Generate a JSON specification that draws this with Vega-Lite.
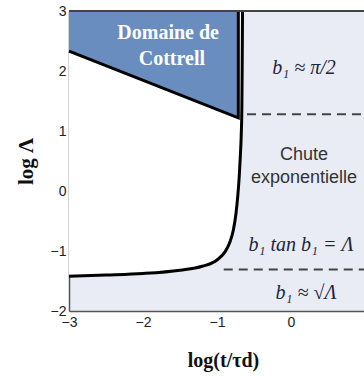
{
  "$schema": "https://vega.github.io/schema/vega-lite/v6.json",
  "autosize": {"type": "none"},
  "width": 295,
  "height": 300,
  "padding": {"left": 69, "top": 11, "right": 0, "bottom": 68},
  "background": "white",
  "view": {"fill": "#e9ecf4", "stroke": null},
  "datasets": {
    "curve": [
      {"x": -3.0, "y": -1.42}, {"x": -2.5, "y": -1.40}, {"x": -2.0, "y": -1.375},
      {"x": -1.5, "y": -1.32}, {"x": -1.2, "y": -1.255}, {"x": -1.0, "y": -1.15},
      {"x": -0.89, "y": -1.01}, {"x": -0.824, "y": -0.845}, {"x": -0.779, "y": -0.65},
      {"x": -0.743, "y": -0.37}, {"x": -0.72, "y": -0.095}, {"x": -0.699, "y": 0.25},
      {"x": -0.686, "y": 0.55}, {"x": -0.672, "y": 0.95}, {"x": -0.664, "y": 1.4},
      {"x": -0.66, "y": 2.0}, {"x": -0.655, "y": 3.0}
    ],
    "cottrell": [
      {"x": -3.0, "y": 2.33}, {"x": -0.712, "y": 1.22}
    ],
    "cottrellEdge": [
      {"x": -3.0, "y": 2.33, "o": 1}, {"x": -0.712, "y": 1.22, "o": 2}, {"x": -0.712, "y": 3.0, "o": 3}
    ],
    "dashes": [
      {"x": -0.595, "x2": 0.99, "y": 1.28},
      {"x": -0.909, "x2": 0.99, "y": -1.31}
    ],
    "frame": [
      {"x": -3.0, "x2": 0.99, "y": 3.0}
    ],
    "cottrellText": [
      {"x": -1.66, "y": 2.63, "t": "Domaine de"},
      {"x": -1.61, "y": 2.2, "t": "Cottrell"}
    ],
    "mathText": [
      {"x": 0.176, "y": 2.05, "t": "b₁ ≈  π/2"},
      {"x": 0.135, "y": -0.9, "t": "b₁ tan b₁ =  Λ"},
      {"x": 0.203, "y": -1.7, "t": "b₁ ≈ √Λ"}
    ],
    "chuteText": [
      {"x": 0.176, "y": 0.6, "t": "Chute"},
      {"x": 0.176, "y": 0.215, "t": "exponentielle"}
    ]
  },
  "encoding": {
    "x": {"field": "x", "type": "quantitative",
      "scale": {"domain": [-3, 0.9865], "nice": false, "zero": false},
      "axis": {"title": "log(t/τd)", "values": [-3, -2, -1, 0],
        "titleFont": "Liberation Serif", "titleFontSize": 20, "titleFontWeight": "bold", "titleColor": "#111",
        "titlePadding": 21, "titleX": 154,
        "labelFont": "Liberation Sans", "labelFontSize": 14, "labelColor": "#222", "labelPadding": 4,
        "ticks": false, "grid": false, "domainColor": "#555", "domainWidth": 1.5, "labelFlush": false}},
    "y": {"field": "y", "type": "quantitative",
      "scale": {"domain": [-2, 3], "nice": false, "zero": false},
      "axis": {"title": "log Λ", "values": [-2, -1, 0, 1, 2, 3],
        "titleFont": "Liberation Serif", "titleFontSize": 21, "titleFontWeight": "bold", "titleColor": "#111",
        "titlePadding": 14,
        "labelFont": "Liberation Sans", "labelFontSize": 14, "labelColor": "#222", "labelPadding": 3,
        "ticks": false, "grid": false, "domainColor": "#555", "domainWidth": 1.5, "labelFlush": false}}
  },
  "layer": [
    {"data": {"name": "curve"}, "mark": {"type": "area", "color": "white", "interpolate": "monotone"},
      "encoding": {"y2": {"datum": 3}}},
    {"data": {"name": "cottrell"}, "mark": {"type": "area", "color": "#6a8dbf"},
      "encoding": {"y2": {"datum": 3}}},
    {"data": {"name": "curve"}, "mark": {"type": "line", "color": "black", "strokeWidth": 3, "interpolate": "monotone"}},
    {"data": {"name": "cottrellEdge"}, "mark": {"type": "line", "color": "black", "strokeWidth": 3},
      "encoding": {"order": {"field": "o"}}},
    {"data": {"name": "dashes"}, "mark": {"type": "rule", "color": "#444", "strokeWidth": 2, "strokeDash": [9, 6]},
      "encoding": {"x2": {"field": "x2"}}},
    {"data": {"name": "frame"}, "mark": {"type": "rule", "color": "#444", "strokeWidth": 2},
      "encoding": {"x2": {"field": "x2"}}},
    {"data": {"name": "cottrellText"}, "mark": {"type": "text", "font": "Liberation Serif", "fontSize": 20, "fontWeight": "bold", "color": "white"},
      "encoding": {"text": {"field": "t"}}},
    {"data": {"name": "mathText"}, "mark": {"type": "text", "font": "Liberation Serif", "fontSize": 20, "fontStyle": "italic", "color": "#1f2340"},
      "encoding": {"text": {"field": "t"}}},
    {"data": {"name": "chuteText"}, "mark": {"type": "text", "font": "Liberation Sans", "fontSize": 18, "color": "#333"},
      "encoding": {"text": {"field": "t"}}}
  ]
}
